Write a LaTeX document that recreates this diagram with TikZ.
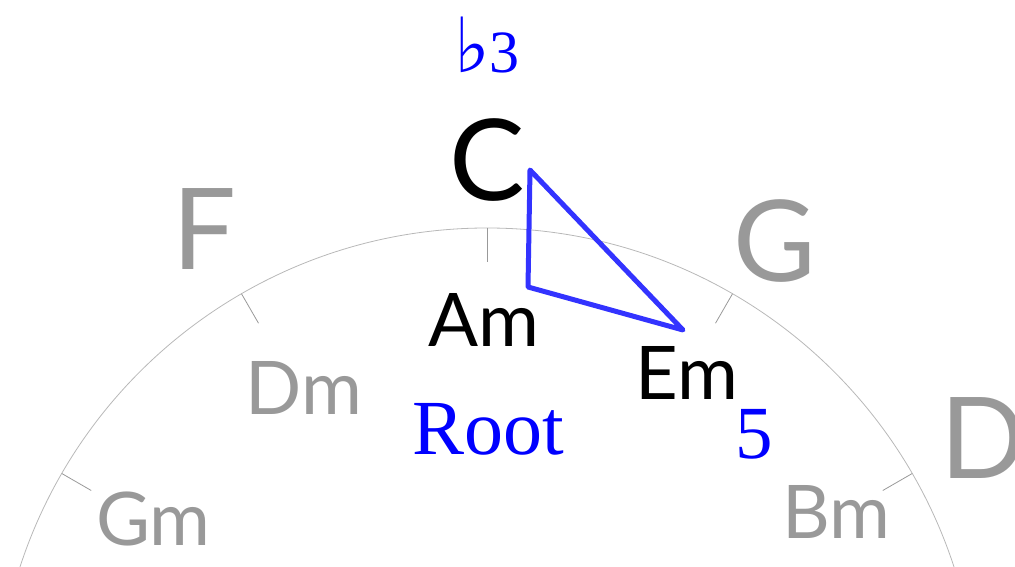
\documentclass[tikz,border=0pt]{standalone}
\usepackage{fontspec}
\newfontfamily\keyfont{Lato}
\newfontfamily\degreefont{Liberation Serif}
\newfontfamily\flatfont{DejaVu Sans}
\usetikzlibrary{positioning}

\definecolor{keygray}{gray}{0.6}
\definecolor{ringgray}{gray}{0.72}
\definecolor{chordblue}{rgb}{0.2,0.2,1}

\begin{document}
\begin{tikzpicture}[x=1pt, y=1pt,
        major/.style = {font = {\keyfont\fontsize{113}{113}\selectfont}, inner sep=0pt},
        minor/.style = {font = {\keyfont\fontsize{74}{74}\selectfont}, inner sep=0pt},
        degree/.style = {font = {\degreefont\fontsize{78}{78}\selectfont}, text=blue, inner sep=0pt, anchor=base}]
        \useasboundingbox (0,0) rectangle (1015,567);
        \clip (0,0) rectangle (1015,567);

        % ring of fifths, centre below the page
        \begin{scope}[shift={(487,-152)}]
            \draw[ringgray, line width=0.8pt] (0,0) circle (491);
            \foreach \a in {30,60,...,150}
                \draw[keygray, line width=0.8pt] (\a:491) -- (\a:457);

            \node[major, keygray] (F) at (120:566) {F};
            \node[major, black]   (C) at (90:559)  {C};
            \node[major, keygray] (G) at (59:558)  {G};
            \node[major, keygray] (D) at (29.5:570) {D};

            \node[minor, keygray] (Gm) at (149:389) {Gm};
            \node[minor, keygray] (Dm) at (119:378) {Dm};
            \node[minor, black]   (Am) at (90.5:399) {Am};
            \node[minor, black]   (Em) at (60:399) {Em};
            \node[minor, keygray] (Bm) at (30.6:406) {Bm};
        \end{scope}

        % chord triangle
        \coordinate (third) at (530,397);
        \coordinate (root)  at (528,280);
        \coordinate (fifth) at (683,237);
        \draw[chordblue, line width=5pt, line join=round] (third) -- (root) -- (fifth) -- cycle;

        \node[degree] (b3)   at (487,494) {{\flatfont\fontsize{76}{76}\selectfont ♭}{\fontsize{60}{60}\selectfont 3}};
        \node[degree] (Rt)   at (488,112) {Root};
        \node[degree] (five) at (754,108) {\fontsize{75}{75}\selectfont 5};
\end{tikzpicture}
\end{document}
